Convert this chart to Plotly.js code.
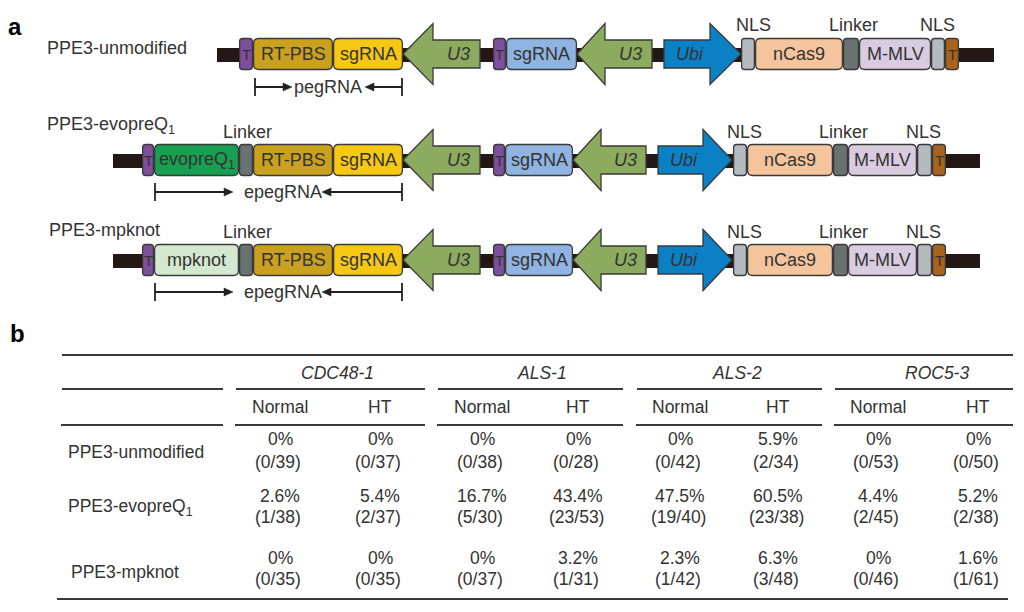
<!DOCTYPE html>
<html>
<head>
<meta charset="utf-8">
<script src="https://cdn.plot.ly/plotly-3.0.1.min.js"></script>
<style>html,body{margin:0;padding:0;background:#fff;}#chart{width:1024px;height:612px;}</style>
</head>
<body>
<div id="chart"></div>
<script>
// ---------------- DATA ----------------
// Panel a: constructs and their elements
const constructNames = ['PPE3-unmodified', 'PPE3-evopreQ<sub>1</sub>', 'PPE3-mpknot'];
const guideParts = [
  ['T', 'RT-PBS', 'sgRNA'],
  ['T', 'evopreQ<sub>1</sub>', '', 'RT-PBS', 'sgRNA'],
  ['T', 'mpknot', '', 'RT-PBS', 'sgRNA']
];
const guidePartKinds = [
  ['term', 'rtpbs', 'sg'],
  ['term', 'evo', 'linker', 'rtpbs', 'sg'],
  ['term', 'mpk', 'linker', 'rtpbs', 'sg']
];
const guideLinkerLabel = ['', 'Linker', 'Linker'];
const guideSpanLabel = ['pegRNA', 'epegRNA', 'epegRNA'];
const promoterLabels = ['U3', 'Ubi'];
const nickgRNALabel = 'sgRNA';
const editorParts = ['', 'nCas9', '', 'M-MLV', '', 'T'];
const editorKinds = ['nls', 'cas', 'linker', 'mmlv', 'nls', 'termB'];
const editorTopLabels = ['NLS', '', 'Linker', '', 'NLS', ''];

// Panel b: table
const loci = ['CDC48-1', 'ALS-1', 'ALS-2', 'ROC5-3'];
const conditions = ['Normal', 'HT'];
const tableRows = ['PPE3-unmodified', 'PPE3-evopreQ<sub>1</sub>', 'PPE3-mpknot'];
const pctUnmodified = ['0%', '0%', '0%', '0%', '0%', '5.9%', '0%', '0%'];
const fracUnmodified = ['(0/39)', '(0/37)', '(0/38)', '(0/28)', '(0/42)', '(2/34)', '(0/53)', '(0/50)'];
const pctEvopreQ1 = ['2.6%', '5.4%', '16.7%', '43.4%', '47.5%', '60.5%', '4.4%', '5.2%'];
const fracEvopreQ1 = ['(1/38)', '(2/37)', '(5/30)', '(23/53)', '(19/40)', '(23/38)', '(2/45)', '(2/38)'];
const pctMpknot = ['0%', '0%', '0%', '3.2%', '2.3%', '6.3%', '0%', '1.6%'];
const fracMpknot = ['(0/35)', '(0/35)', '(0/37)', '(1/31)', '(1/42)', '(3/48)', '(0/46)', '(1/61)'];

// ---------------- LAYOUT GEOMETRY ----------------
const FONT = 'Liberation Sans, Arial, Helvetica, sans-serif';
const TXT = '#333333';
const EDGE = '#3a3a3a';
const SZ = 18, TSZ = 17.5;
const COLORS = {
  term: '#7e4f9d', rtpbs: '#c9a11e', sg: '#f6c813', evo: '#17a052', mpk: '#d4e8d0',
  linker: '#6a7171', u3: '#8cab5f', sgblue: '#8fb4e1', ubi: '#0b80c5', nls: '#b5babf',
  cas: '#f4c59c', mmlv: '#d9cce1', termB: '#a8631d', backbone: '#231815'
};
const geo = [
  { yc: 54, label: [46, 48], bb: [217, 994], guide: [239, 253, 333, 403], u3a: [403, 433, 480],
    t2: [493, 506], sg2: [506, 577], u3b: [577, 605, 652], ubi: [664, 710, 741],
    ed: [741, 755, 843, 859, 931, 945, 959], topY: 25, top: [753, 0, 853, 0, 937, 0],
    span: [255, 402, 87, 292, 365, 328], linkX: 0, linkY: 0 },
  { yc: 160, label: [46, 125], bb: [113, 980], guide: [142, 154, 239, 253, 333, 403], u3a: [403, 433, 480],
    t2: [493, 505], sg2: [505, 573], u3b: [573, 601, 646], ubi: [658, 703, 732],
    ed: [733, 747, 833, 848, 917, 932, 946], topY: 132, top: [744, 0, 843, 0, 923, 0],
    span: [155, 402, 192, 233, 322, 283], linkX: 247, linkY: 132 },
  { yc: 260, label: [48, 230], bb: [113, 980], guide: [142, 154, 239, 253, 333, 403], u3a: [403, 433, 480],
    t2: [493, 505], sg2: [505, 573], u3b: [573, 601, 646], ubi: [658, 703, 732],
    ed: [733, 747, 833, 848, 917, 932, 946], topY: 232, top: [744, 0, 843, 0, 923, 0],
    span: [155, 402, 292, 233, 322, 283], linkX: 247, linkY: 232 }
];
const BOX_H = 31, BODY_H = 28, HEAD_H = 61, BB_H = 14;

const shapes = [];
const annotations = [];

function rboxPath(x0, x1, yc, h, r) {
  const y0 = yc - h / 2, y1 = yc + h / 2;
  return `M${x0 + r},${y0} L${x1 - r},${y0} Q${x1},${y0} ${x1},${y0 + r} L${x1},${y1 - r} Q${x1},${y1} ${x1 - r},${y1} ` +
         `L${x0 + r},${y1} Q${x0},${y1} ${x0},${y1 - r} L${x0},${y0 + r} Q${x0},${y0} ${x0 + r},${y0} Z`;
}
function addBox(x0, x1, yc, color, r) {
  shapes.push({ type: 'path', xref: 'x', yref: 'y', path: rboxPath(x0 + 0.6, x1 - 0.6, yc, BOX_H, r === undefined ? 4 : r),
    fillcolor: color, line: { color: EDGE, width: 1.3 }, layer: 'above' });
}
function addArrow(tip, head, end, yc, color) {
  const bh = BODY_H / 2, hh = HEAD_H / 2;
  const p = `M${tip},${yc} L${head},${yc - hh} L${head},${yc - bh} L${end},${yc - bh} L${end},${yc + bh} L${head},${yc + bh} L${head},${yc + hh} Z`;
  shapes.push({ type: 'path', xref: 'x', yref: 'y', path: p, fillcolor: color, line: { color: EDGE, width: 1.3 }, layer: 'above' });
}
function addText(x, y, text, opts) {
  opts = opts || {};
  annotations.push({ xref: 'x', yref: 'y', x: x, y: y, text: text, showarrow: false,
    xanchor: opts.xanchor || 'center', yanchor: 'middle', borderpad: 0,
    font: { family: FONT, size: opts.size || SZ, color: opts.color || TXT } });
}
function addLine(x0, x1, y0, y1, w, color) {
  shapes.push({ type: 'line', xref: 'x', yref: 'y', x0: x0, x1: x1, y0: y0, y1: y1,
    line: { color: color || EDGE, width: w || 2 }, layer: 'above' });
}
function addHead(x, y, dir) { // dir: +1 points right, -1 points left
  const L = 9, W = 4;
  shapes.push({ type: 'path', xref: 'x', yref: 'y',
    path: `M${x},${y} L${x - dir * L},${y - W} L${x - dir * L},${y + W} Z`,
    fillcolor: '#222', line: { color: '#222', width: 0.5 }, layer: 'above' });
}

// ---------------- PANEL A ----------------
geo.forEach((g, i) => {
  const yc = g.yc;
  shapes.push({ type: 'rect', xref: 'x', yref: 'y', x0: g.bb[0], x1: g.bb[1], y0: yc - BB_H / 2 + 1, y1: yc + BB_H / 2 + 1,
    fillcolor: COLORS.backbone, line: { width: 0 }, layer: 'above' });
  addText(g.label[0], g.label[1], constructNames[i], { xanchor: 'left' });
  guideParts[i].forEach((lab, k) => {
    const x0 = g.guide[k], x1 = g.guide[k + 1];
    const kind = guidePartKinds[i][k];
    addBox(x0, x1, yc, COLORS[kind], kind === 'term' || kind === 'linker' ? 3 : 5);
    if (lab) addText((x0 + x1) / 2, yc, lab, { size: lab === 'T' ? 15 : SZ });
  });
  if (guideLinkerLabel[i]) addText(g.linkX, g.linkY, guideLinkerLabel[i]);
  addArrow(g.u3a[0], g.u3a[1], g.u3a[2], yc, COLORS.u3);
  addText((g.u3a[1] + g.u3a[2]) / 2 + 2, yc, '<i>' + promoterLabels[0] + '</i>');
  addBox(g.t2[0], g.t2[1], yc, COLORS.term, 3);
  addText((g.t2[0] + g.t2[1]) / 2, yc, 'T', { size: 15 });
  addBox(g.sg2[0], g.sg2[1], yc, COLORS.sgblue, 5);
  addText((g.sg2[0] + g.sg2[1]) / 2, yc, nickgRNALabel);
  addArrow(g.u3b[0], g.u3b[1], g.u3b[2], yc, COLORS.u3);
  addText((g.u3b[1] + g.u3b[2]) / 2 + 2, yc, '<i>' + promoterLabels[0] + '</i>');
  addArrow(g.ubi[2], g.ubi[1], g.ubi[0], yc, COLORS.ubi);
  addText((g.ubi[0] + g.ubi[1]) / 2 + 3, yc, '<i>' + promoterLabels[1] + '</i>');
  editorParts.forEach((lab, k) => {
    const x0 = g.ed[k], x1 = g.ed[k + 1];
    const kind = editorKinds[k];
    addBox(x0, x1, yc, COLORS[kind], (kind === 'nls' || kind === 'linker' || kind === 'termB') ? 3 : 5);
    if (lab) addText((x0 + x1) / 2, yc, lab, { size: lab === 'T' ? 15 : SZ });
    if (editorTopLabels[k]) addText(g.top[k], g.topY, editorTopLabels[k]);
  });
  const s = g.span;
  addLine(s[0], s[3] - 2, s[2], s[2], 1.8, '#222');
  addLine(s[4] + 2, s[1], s[2], s[2], 1.8, '#222');
  addLine(s[0], s[0], s[2] - 9, s[2] + 9, 1.8, '#222');
  addLine(s[1], s[1], s[2] - 9, s[2] + 9, 1.8, '#222');
  addHead(s[3], s[2], 1);
  addHead(s[4], s[2], -1);
  addText(s[5], s[2], guideSpanLabel[i]);
});
annotations.push({ xref: 'x', yref: 'y', x: 15, y: 26, text: '<b>a</b>', showarrow: false, xanchor: 'center', yanchor: 'middle',
  font: { family: FONT, size: 24, color: '#000' } });

// ---------------- PANEL B ----------------
annotations.push({ xref: 'x', yref: 'y', x: 17, y: 333, text: '<b>b</b>', showarrow: false, xanchor: 'center', yanchor: 'middle',
  font: { family: FONT, size: 24, color: '#000' } });
const T = {
  topY: 355, topX: [62, 1013], botY: 599, botX: [57, 1008],
  groupY: 389, subY: 425,
  segs: [[62, 223], [236, 425], [438, 623], [637, 822], [835, 1013]],
  headY: 373, headX: [337, 542, 737, 937],
  colY: 407, colX: [280, 380, 482, 578, 680, 778, 878, 978],
  pctY: [439, 496, 558], fracY: [462, 517, 579], rowLabY: [452, 507, 572], rowLabX: [67, 67, 70]
};
addLine(T.topX[0], T.topX[1], T.topY, T.topY, 2);
addLine(T.botX[0], T.botX[1], T.botY, T.botY, 2);
T.segs.forEach(sg => {
  addLine(sg[0], sg[1], T.groupY, T.groupY, 2);
  addLine(sg[0] - 1, sg[1], T.subY, T.subY, 2);
});
loci.forEach((l, i) => addText(T.headX[i], T.headY, '<i>' + l + '</i>', { size: TSZ }));
T.colX.forEach((x, j) => addText(x, T.colY, conditions[j % 2], { size: TSZ }));
const pcts = [pctUnmodified, pctEvopreQ1, pctMpknot];
const fracs = [fracUnmodified, fracEvopreQ1, fracMpknot];
tableRows.forEach((r, i) => {
  addText(T.rowLabX[i], T.rowLabY[i], r, { xanchor: 'left', size: TSZ });
  T.colX.forEach((x, j) => {
    addText(x, T.pctY[i], pcts[i][j], { size: TSZ });
    addText(x - 2, T.fracY[i], fracs[i][j], { size: TSZ });
  });
});

const layout = {
  width: 1024, height: 612,
  margin: { l: 0, r: 0, t: 0, b: 0 },
  paper_bgcolor: '#ffffff', plot_bgcolor: '#ffffff',
  xaxis: { range: [0, 1024], visible: false, fixedrange: true },
  yaxis: { range: [612, 0], visible: false, fixedrange: true },
  showlegend: false,
  shapes: shapes,
  annotations: annotations
};
Plotly.newPlot('chart', [{ x: [0], y: [0], mode: 'markers', marker: { opacity: 0 }, hoverinfo: 'skip' }], layout,
  { staticPlot: true, displayModeBar: false });
</script>
</body>
</html>
